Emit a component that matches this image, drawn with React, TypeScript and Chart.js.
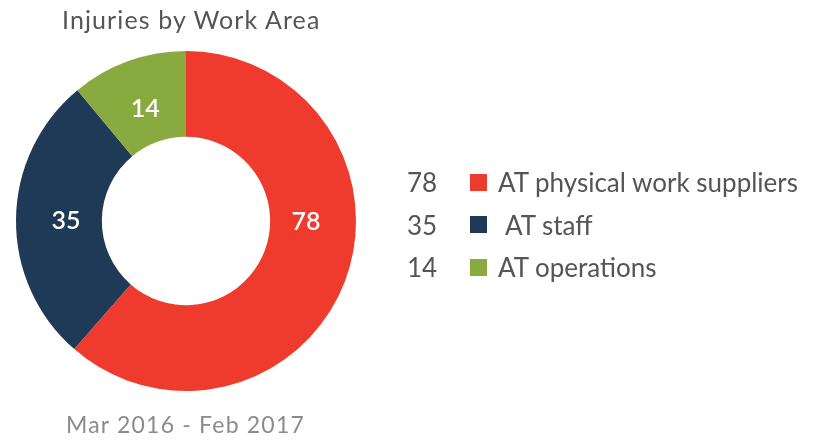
import React, { useEffect, useRef } from "react";
import { Chart, registerables } from "chart.js";

Chart.register(...registerables);

const categories = ["AT physical work suppliers", "AT staff", "AT operations"];
const values = [78, 35, 14];
const colors = ["#EF3B2D", "#1F3A56", "#88AA3F"];
const titleText = "Injuries by Work Area";
const subtitleText = "Mar 2016 - Feb 2017";

const FONT = "Lato, 'Noto Sans', sans-serif";

const labelPlugin = {
  id: "sliceLabels",
  afterDatasetsDraw(chart: any) {
    const ctx = chart.ctx;
    const meta = chart.getDatasetMeta(0);
    ctx.save();
    ctx.fillStyle = "#ffffff";
    ctx.font = `600 25px ${FONT}`;
    ctx.textAlign = "center";
    ctx.textBaseline = "middle";
    meta.data.forEach((arc: any, i: number) => {
      const { x, y, startAngle, endAngle, innerRadius, outerRadius } = arc.getProps(
        ["x", "y", "startAngle", "endAngle", "innerRadius", "outerRadius"],
        true
      );
      let mid = (startAngle + endAngle) / 2;
      if (endAngle - startAngle > Math.PI) {
        const norm = (a: number) => ((a % (2 * Math.PI)) + 2 * Math.PI) % (2 * Math.PI);
        if (norm(0 - startAngle) < endAngle - startAngle) mid = startAngle + norm(0 - startAngle);
      }
      const r = (innerRadius + outerRadius) / 2 - 7;
      ctx.fillText(String(values[i]), x + Math.cos(mid) * r, y + Math.sin(mid) * r + 1);
    });
    ctx.restore();
  },
};

export default function App() {
  const ref = useRef<HTMLCanvasElement>(null);
  useEffect(() => {
    if (!ref.current) return;
    const chart = new Chart(ref.current, {
      type: "doughnut",
      data: {
        labels: categories,
        datasets: [
          {
            data: values,
            backgroundColor: colors,
            borderWidth: 0,
          },
        ],
      },
      options: {
        animation: false,
        responsive: false,
        cutout: "49.5%",
        layout: { padding: { left: 16, right: 462, top: 51, bottom: 50 } },
        plugins: {
          legend: { display: false },
          tooltip: { enabled: false },
          title: { display: false },
        },
      },
      plugins: [labelPlugin],
    });
    return () => chart.destroy();
  }, []);

  return (
    <div
      style={{
        position: "fixed",
        left: 0,
        top: 0,
        width: 818,
        height: 441,
        background: "#ffffff",
        fontFamily: FONT,
      }}
    >
      <canvas ref={ref} width={818} height={441} style={{ position: "absolute", left: 0, top: 0 }} />
      <div
        style={{
          position: "absolute",
          left: 62,
          top: 7,
          fontSize: 25,
          letterSpacing: 1.1,
          color: "#555555",
          whiteSpace: "nowrap",
          lineHeight: "25px",
        }}
      >
        {titleText}
      </div>
      <div
        style={{
          position: "absolute",
          left: 66,
          top: 413,
          fontSize: 23,
          letterSpacing: 1.2,
          color: "#8a8b8d",
          whiteSpace: "nowrap",
          lineHeight: "23px",
        }}
      >
        {subtitleText}
      </div>
      {categories.map((c, i) => (
        <div
          key={c}
          style={{
            position: "absolute",
            left: 407,
            top: 169 + i * 42.5,
            height: 26,
            display: "flex",
            alignItems: "center",
            whiteSpace: "nowrap",
            fontSize: 26,
            lineHeight: "26px",
            color: "#555555",
          }}
        >
          <span style={{ width: 63, display: "inline-block" }}>{values[i]}</span>
          <span
            style={{
              width: 17,
              height: 17,
              background: colors[i],
              display: "inline-block",
              marginRight: i === 1 ? 18 : 11,
            }}
          />
          <span>{c}</span>
        </div>
      ))}
    </div>
  );
}
